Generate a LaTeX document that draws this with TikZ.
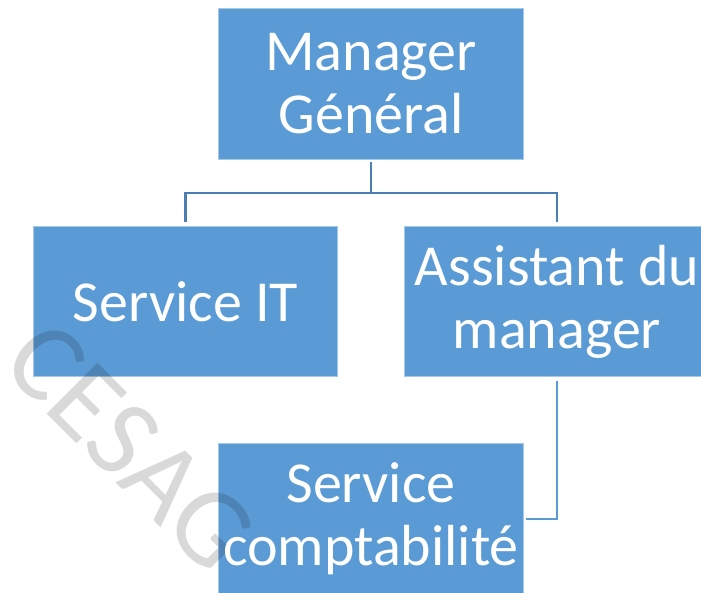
\documentclass[tikz,border=0pt]{standalone}
\usepackage{fontspec}
\setmainfont{Carlito}
\usetikzlibrary{positioning}
\definecolor{boxblue}{HTML}{5B9BD5}
\definecolor{linkdark}{HTML}{4A7EB4}
\definecolor{linklight}{HTML}{5B9BD5}
\pgfdeclarelayer{fills}
\pgfdeclarelayer{wmark}
\pgfsetlayers{fills,wmark,main}
\begin{document}
\begin{tikzpicture}[x=1pt,y=-1pt,
  orgbox/.style={text=white, minimum width=304pt, minimum height=150pt,
    inner sep=0pt, align=center, font=\fontsize{58}{63}\selectfont},
  boxfill/.style={fill=boxblue, draw=boxblue!55!white, line width=0.8pt},
  linkA/.style={draw=linkdark, line width=2.2pt},
  linkB/.style={draw=linklight, line width=2.2pt},
  wmtext/.style={font=\fontsize{112}{112}\selectfont, text=black,
    text opacity=0.15, rotate=-45, anchor=base west, inner sep=0pt}]
\useasboundingbox (0,0) rectangle (701,592);

% org chart boxes
\node[orgbox] (mg) at (371,84)    {Manager\\Général};
\node[orgbox] (it) at (185.5,301.5) {Service IT};
\node[orgbox] (am) at (557,301.5) {Assistant du\\manager};
\node[orgbox] (sc) at (371,519)   {Service\\comptabilité};

\begin{pgfonlayer}{fills}
  \foreach \n in {mg,it,am,sc}
    \path[boxfill] (\n.south west) rectangle (\n.north east);
\end{pgfonlayer}

% watermark lettering across the lower left
\begin{pgfonlayer}{wmark}
  \node[wmtext] (wm) at (-1,366) {CESAG};
\end{pgfonlayer}

% connectors
\coordinate (bus) at (371,193);
\draw[linkA] ([yshift=-3pt]mg.south) -- (bus);
\draw[linkA] ([yshift=4pt]it.north) |- (bus) -| ([yshift=4pt]am.north);
\draw[linkB] ([yshift=-4pt]am.south) |- ([xshift=3pt]sc.east);
\end{tikzpicture}
\end{document}
